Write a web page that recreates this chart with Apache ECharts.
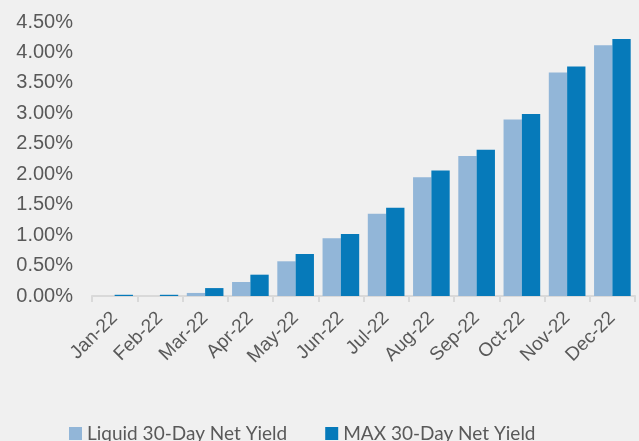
<!DOCTYPE html>
<html><head><meta charset="utf-8">
<script src="https://cdn.jsdelivr.net/npm/echarts@6/dist/echarts.min.js"></script>
<style>html,body{margin:0;padding:0;background:#f0f0f0}#c{width:639px;height:441px}</style>
</head><body><div id="c"></div>
<script>
const categories = ['Jan-22','Feb-22','Mar-22','Apr-22','May-22','Jun-22','Jul-22','Aug-22','Sep-22','Oct-22','Nov-22','Dec-22'];
const liquidYield = [0.00, 0.00, 0.05, 0.23, 0.57, 0.95, 1.35, 1.95, 2.30, 2.90, 3.67, 4.12];
const maxYield = [0.02, 0.02, 0.13, 0.35, 0.69, 1.02, 1.45, 2.06, 2.40, 2.99, 3.77, 4.22];
const seriesNames = ['Liquid 30-Day Net Yield', 'MAX 30-Day Net Yield'];
const chart = echarts.init(document.getElementById('c'));
chart.setOption({
  backgroundColor: '#f0f0f0',
  animation: false,
  grid: {left: 92, right: 4, top: 22, bottom: 145},
  legend: {
    left: 64, top: 419, itemWidth: 13, itemHeight: 13, itemGap: 38,
    icon: 'rect',
    textStyle: {fontFamily: 'Lato', fontSize: 19, color: '#595959'},
    data: seriesNames
  },
  xAxis: {
    type: 'category', data: categories,
    axisLine: {lineStyle: {color: '#d9d9d9', width: 2}},
    axisTick: {show: true, length: 6, lineStyle: {color: '#d9d9d9', width: 2}},
    axisLabel: {rotate: 45, fontFamily: 'Liberation Sans', fontSize: 19, color: '#595959', margin: 19, interval: 0}
  },
  yAxis: {
    type: 'value', min: 0, max: 4.5, interval: 0.5,
    splitLine: {show: false},
    axisLine: {show: false}, axisTick: {show: false},
    axisLabel: {formatter: v => v.toFixed(2) + '%', fontFamily: 'Liberation Sans', fontSize: 20, color: '#595959', margin: 19}
  },
  series: [
    {name: seriesNames[0], type: 'bar', data: liquidYield, itemStyle: {color: '#92b6d8'}, barGap: '0%', barCategoryGap: '19%'},
    {name: seriesNames[1], type: 'bar', data: maxYield, itemStyle: {color: '#067aba'}, barGap: '0%', barCategoryGap: '19%'}
  ]
});
</script></body></html>
